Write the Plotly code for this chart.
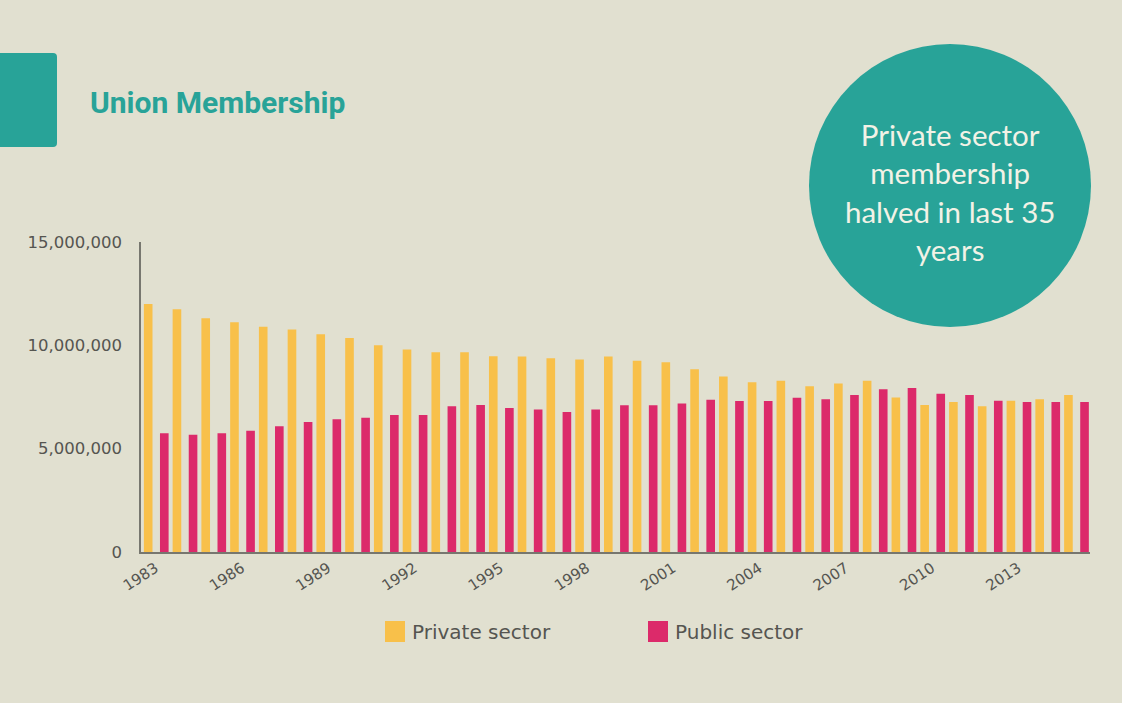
import plotly.graph_objects as go

years = list(range(1983, 2016))
private_sector = [12.00, 11.74, 11.31, 11.12, 10.90, 10.77, 10.54, 10.35, 10.00, 9.80,
                  9.67, 9.67, 9.47, 9.46, 9.38, 9.31, 9.46, 9.25, 9.18, 8.84,
                  8.49, 8.21, 8.29, 8.02, 8.15, 8.29, 7.47, 7.11, 7.26, 7.05,
                  7.32, 7.39, 7.60]
public_sector = [5.74, 5.67, 5.74, 5.87, 6.09, 6.29, 6.42, 6.50, 6.63, 6.63,
                 7.05, 7.11, 6.97, 6.90, 6.77, 6.90, 7.10, 7.10, 7.18, 7.37,
                 7.31, 7.31, 7.46, 7.39, 7.60, 7.87, 7.94, 7.66, 7.60, 7.32,
                 7.26, 7.26, 7.26]
private_vals = [v * 1e6 for v in private_sector]
public_vals = [v * 1e6 for v in public_sector]
tick_years = [1983, 1986, 1989, 1992, 1995, 1998, 2001, 2004, 2007, 2010, 2013]
y_ticks = [0, 5000000, 10000000, 15000000]
y_tick_labels = ["0", "5,000,000", "10,000,000", "15,000,000"]

BG = "#e1e0d0"
TEAL = "#28a398"
YELLOW = "#f8c04a"
PINK = "#dc2a6a"
TEXT = "#555550"

fig = go.Figure()
fig.add_trace(go.Bar(x=years, y=private_vals, name="Private sector",
                     marker=dict(color=YELLOW, line=dict(width=0)),
                     offset=-0.40, width=0.30, showlegend=False))
fig.add_trace(go.Bar(x=years, y=public_vals, name="Public sector",
                     marker=dict(color=PINK, line=dict(width=0)),
                     offset=0.16, width=0.30, showlegend=False))

fig.update_layout(
    width=1122, height=703,
    paper_bgcolor=BG, plot_bgcolor=BG,
    margin=dict(l=141, r=32, t=242, b=151, pad=0),
    barmode="overlay",
    showlegend=False,
    font=dict(family="DejaVu Sans, sans-serif", color=TEXT),
    xaxis=dict(range=[1982.5, 2015.5], tickvals=tick_years,
               ticktext=[str(y) for y in tick_years], tickangle=-33,
               showgrid=False, zeroline=False, showline=True,
               linecolor="#77776f", linewidth=1.5, ticks="",
               ticklabelstandoff=0,
               tickfont=dict(family="DejaVu Sans, sans-serif", size=15, color=TEXT),
               fixedrange=True),
    yaxis=dict(range=[0, 15000000], tickvals=y_ticks, ticktext=y_tick_labels,
               showgrid=False, zeroline=False, showline=True,
               linecolor="#77776f", linewidth=1.5, ticks="",
               ticklabelstandoff=14,
               tickfont=dict(family="DejaVu Sans, sans-serif", size=16.5, color=TEXT),
               fixedrange=True),
)

pw, ph = 1122 - 141 - 32, 703 - 242 - 151

def px(x):
    return (x - 141) / pw

def py(y):
    return (703 - 151 - y) / ph

# left teal tab with rounded right corners (paper coords path)
r = 4
x0, x1, yt, yb = -5, 57, 53, 147
tab_path = (f"M {px(x0)} {py(yt)} L {px(x1 - r)} {py(yt)} "
            f"Q {px(x1)} {py(yt)} {px(x1)} {py(yt + r)} "
            f"L {px(x1)} {py(yb - r)} Q {px(x1)} {py(yb)} {px(x1 - r)} {py(yb)} "
            f"L {px(x0)} {py(yb)} Z")
fig.add_shape(type="path", xref="paper", yref="paper", path=tab_path,
              fillcolor=TEAL, line=dict(width=0), layer="above")
fig.add_shape(type="circle", xref="paper", yref="paper",
              x0=px(809), x1=px(1091), y0=py(327), y1=py(44),
              fillcolor=TEAL, line=dict(width=0), layer="above")
# legend swatches
fig.add_shape(type="rect", xref="paper", yref="paper",
              x0=px(385), x1=px(405), y0=py(642), y1=py(621),
              fillcolor=YELLOW, line=dict(width=0))
fig.add_shape(type="rect", xref="paper", yref="paper",
              x0=px(648), x1=px(668), y0=py(642), y1=py(621),
              fillcolor=PINK, line=dict(width=0))

fig.add_annotation(xref="paper", yref="paper", x=px(88), y=py(102),
                   xanchor="left", yanchor="middle", showarrow=False,
                   text="<b>Union Membership</b>",
                   font=dict(family="Roboto, sans-serif", size=30, color=TEAL))
fig.add_annotation(xref="paper", yref="paper", x=px(950), y=py(192),
                   xanchor="center", yanchor="middle", showarrow=False,
                   text="Private sector<br>membership<br>halved in last 35<br>years",
                   align="center",
                   font=dict(family="Lato, sans-serif", size=29.5, color="#f2f2e6"))
fig.add_annotation(xref="paper", yref="paper", x=px(410), y=py(632),
                   xanchor="left", yanchor="middle", showarrow=False,
                   text="Private sector",
                   font=dict(family="DejaVu Sans, sans-serif", size=20, color=TEXT))
fig.add_annotation(xref="paper", yref="paper", x=px(673), y=py(632),
                   xanchor="left", yanchor="middle", showarrow=False,
                   text="Public sector",
                   font=dict(family="DejaVu Sans, sans-serif", size=20, color=TEXT))

fig.write_html("out.html")
